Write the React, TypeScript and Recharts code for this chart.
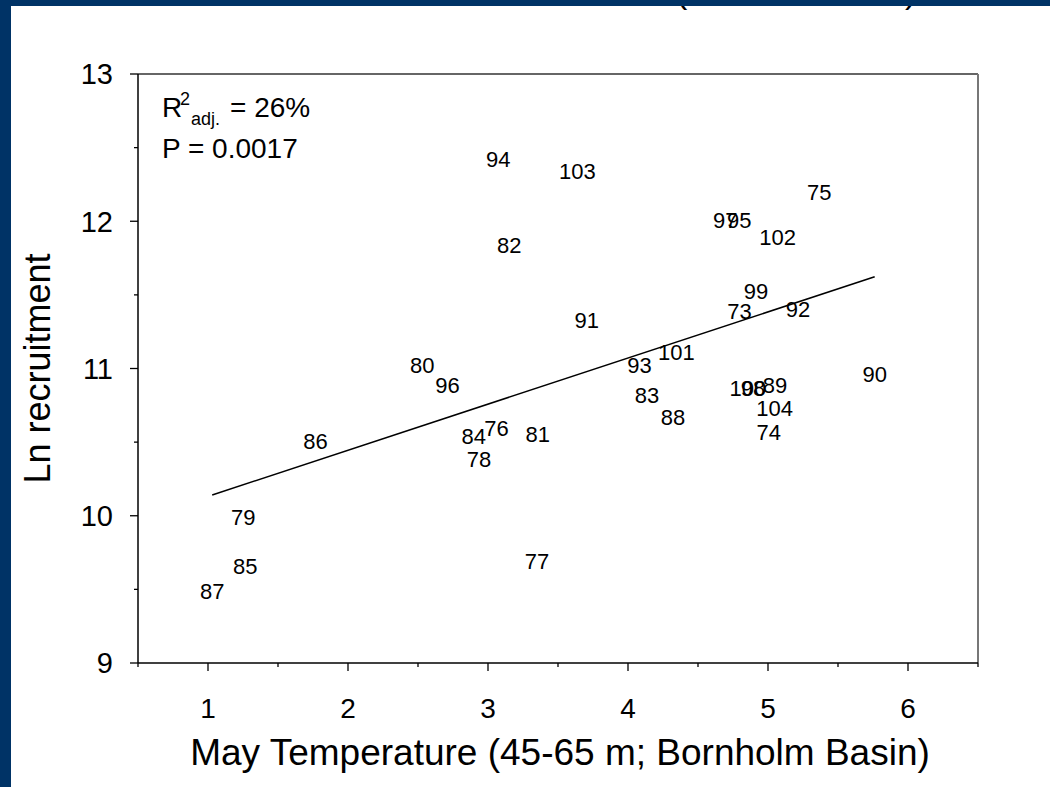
import React from "react";
import { ScatterChart, Scatter, XAxis, YAxis, ReferenceLine } from "recharts";

const years = [73, 74, 75, 76, 77, 78, 79, 80, 81, 82, 83, 84, 85, 86, 87, 88, 89, 90, 91, 92, 93, 94, 95, 96, 97, 98, 99, 100, 101, 102, 103, 104];
const mayTemp = [4.796, 5.006, 5.366, 3.061, 3.35, 2.935, 1.251, 2.53, 3.355, 3.151, 4.135, 2.899, 1.266, 1.768, 1.03, 4.321, 5.05, 5.762, 3.706, 5.214, 4.082, 3.073, 4.794, 2.711, 4.694, 4.893, 4.914, 4.857, 4.346, 5.068, 3.639, 5.048];
const lnRecruit = [11.389, 10.567, 12.197, 10.598, 9.693, 10.387, 9.988, 11.022, 10.557, 11.837, 10.818, 10.54, 9.66, 10.503, 9.487, 10.667, 10.89, 10.961, 11.331, 11.406, 11.02, 12.421, 12.005, 10.89, 12.005, 10.867, 11.528, 10.869, 11.112, 11.892, 12.34, 10.732];

const fitX = [1.03, 5.762];
const fitY = [10.141, 11.623];

const xTicks = [0.5, 1, 1.5, 2, 2.5, 3, 3.5, 4, 4.5, 5, 5.5, 6, 6.5];
const yTicks = [9, 9.5, 10, 10.5, 11, 11.5, 12, 12.5, 13];

const FONT = "'Liberation Sans', Arial, sans-serif";
const NAVY = "#003366";

const data = years.map((y, i) => ({ x: mayTemp[i], y: lnRecruit[i], label: String(y) }));

const XTick = (props: any) => {
  const { x, y, payload } = props;
  const v = payload.value;
  const major = Number.isInteger(v);
  return (
    <g>
      <line x1={x} x2={x} y1={y} y2={y + (major ? 8 : 4)} stroke="#000" strokeWidth={1.3} />
      {major && (
        <text x={x} y={y + 45} dy="0.355em" textAnchor="middle" fontSize={28} fontFamily={FONT} fill="#000">
          {v}
        </text>
      )}
    </g>
  );
};

const YTick = (props: any) => {
  const { x, y, payload } = props;
  const v = payload.value;
  const major = Number.isInteger(v);
  return (
    <g>
      <line x1={x} x2={x - (major ? 8 : 4)} y1={y} y2={y} stroke="#000" strokeWidth={1.3} />
      {major && (
        <text x={x - 25} y={y} dy="0.355em" textAnchor="end" fontSize={29} fontFamily={FONT} fill="#000">
          {v}
        </text>
      )}
    </g>
  );
};

const LabelShape = (props: any) => {
  const { cx, cy, payload } = props;
  return (
    <text x={cx} y={cy} dy="0.355em" textAnchor="middle" fontSize={22} fontFamily={FONT} fill="#000">
      {payload.label}
    </text>
  );
};

const XTitle = (props: any) => {
  const vb = props.viewBox;
  return (
    <text x={vb.x + vb.width / 2 + 2} y={752} dy="0.355em" textAnchor="middle" fontSize={37} fontFamily={FONT} fill="#000">
      May Temperature (45-65 m; Bornholm Basin)
    </text>
  );
};

const YTitle = (props: any) => {
  const vb = props.viewBox;
  const cy = vb.y + vb.height / 2;
  return (
    <text x={37} y={cy} dy="0.355em" textAnchor="middle" fontSize={36} fontFamily={FONT} fill="#000" transform={`rotate(-90, 37, ${cy})`}>
      Ln recruitment
    </text>
  );
};

export default function App() {
  return (
    <div style={{ position: "absolute", left: 0, top: 0, width: 1050, height: 787, background: "#fff", overflow: "hidden" }}>
      <div style={{ position: "absolute", left: 676, top: -28, fontFamily: FONT, fontSize: 34, color: "#000", lineHeight: "normal" }}>(</div>
      <div style={{ position: "absolute", left: 905, top: -28, fontFamily: FONT, fontSize: 34, color: "#000", lineHeight: "normal" }}>)</div>
      <div style={{ position: "absolute", left: 0, top: 0 }}>
        <ScatterChart width={1050} height={787} margin={{ top: 74, right: 72, bottom: 0, left: 0 }}>
          <XAxis
            type="number"
            dataKey="x"
            domain={[0.5, 6.5]}
            ticks={xTicks}
            interval={0}
            tickSize={0}
            tickMargin={0}
            tick={<XTick />}
            height={124}
            axisLine={{ stroke: "#000", strokeWidth: 1.5 }}
            allowDataOverflow
            label={<XTitle />}
          />
          <YAxis
            type="number"
            dataKey="y"
            domain={[9, 13]}
            ticks={yTicks}
            interval={0}
            tickSize={0}
            tickMargin={0}
            tick={<YTick />}
            width={138}
            axisLine={{ stroke: "#000", strokeWidth: 1.5 }}
            allowDataOverflow
            label={<YTitle />}
          />
          <ReferenceLine y={13} stroke="#333" strokeWidth={1.5} />
          <ReferenceLine x={6.5} stroke="#777" strokeWidth={2} />
          <ReferenceLine
            segment={[
              { x: fitX[0], y: fitY[0] },
              { x: fitX[1], y: fitY[1] },
            ]}
            stroke="#000"
            strokeWidth={1.5}
            ifOverflow="visible"
          />
          <Scatter data={data} shape={<LabelShape />} isAnimationActive={false} />
        </ScatterChart>
      </div>
      <svg width={1050} height={787} style={{ position: "absolute", left: 0, top: 0, pointerEvents: "none" }}>
        <text fontFamily={FONT} fill="#000" fontSize={28}>
          <tspan x={162} y={117}>R</tspan>
          <tspan x={180} y={105} fontSize={18}>2</tspan>
          <tspan x={191} y={125} fontSize={18}>adj.</tspan>
          <tspan x={230} y={117}>= 26%</tspan>
        </text>
        <text x={162} y={158} fontFamily={FONT} fill="#000" fontSize={28}>P = 0.0017</text>
      </svg>
      <div style={{ position: "absolute", left: 0, top: 0, width: 1050, height: 6, background: NAVY }} />
      <div style={{ position: "absolute", left: 0, top: 0, width: 11, height: 787, background: NAVY }} />
    </div>
  );
}
